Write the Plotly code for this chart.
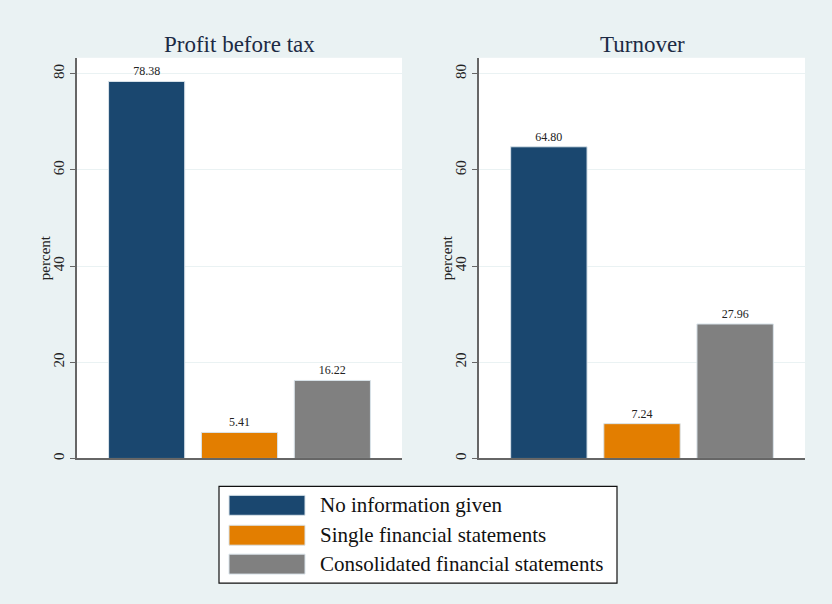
import plotly.graph_objects as go

categories = ["No information given", "Single financial statements", "Consolidated financial statements"]
panels = ["Profit before tax", "Turnover"]
profit_values = [78.38, 5.41, 16.22]
turnover_values = [64.80, 7.24, 27.96]
colors = ["#1a476f", "#e37e00", "#808080"]
yticks = [0, 20, 40, 60, 80]
ytitle = "percent"

W, H = 832, 604
BG = "#eaf2f3"
SERIF = "Liberation Serif, Times New Roman, serif"

def px(x):
    return x / W

def py(y):
    return 1 - y / H

fig = go.Figure()
series = [profit_values, turnover_values]
for p, vals in enumerate(series):
    ax = "" if p == 0 else str(p + 1)
    for i, (cat, v) in enumerate(zip(categories, vals)):
        fig.add_trace(go.Bar(
            x=[i], y=[v], name=cat, showlegend=False,
            marker=dict(color=colors[i], line=dict(color="#d9e3ea", width=1)),
            width=0.82,
            texttemplate="%{y:.2f}", textposition="outside",
            textfont=dict(family=SERIF, size=12, color="#222222"),
            cliponaxis=False,
            xaxis="x" + ax, yaxis="y" + ax,
        ))

doms = [(77, 402), (479, 805)]
top, bottom = 58, 460
for p, (x0, x1) in enumerate(doms):
    ax = "" if p == 0 else str(p + 1)
    fig.update_layout(**{
        "xaxis" + ax: dict(domain=[px(x0), px(x1)], range=[-0.75, 2.75],
                          showticklabels=False, ticks="", showgrid=False,
                          showline=True, linecolor="#666666", linewidth=1.5,
                          zeroline=False, anchor="y" + ax, fixedrange=True),
        "yaxis" + ax: dict(domain=[py(bottom), py(top)], range=[0, 83.3],
                          tickvals=yticks, ticktext=[str(t) for t in yticks],
                          tickangle=-90, ticks="outside", ticklen=5, tickcolor="#666666",
                          tickfont=dict(family=SERIF, size=15, color="#222222"),
                          showgrid=True, gridcolor=BG, gridwidth=1,
                          showline=True, linecolor="#666666", linewidth=1.5,
                          zeroline=False, anchor="x" + ax,
                          fixedrange=True),
    })
    fig.add_annotation(x=px((x0 + x1) / 2), y=py(45), xref="paper", yref="paper",
                       text=panels[p], showarrow=False,
                       font=dict(family=SERIF, size=23, color="#1c2a44"),
                       xanchor="center", yanchor="middle")
    fig.add_annotation(x=px(x0 - 32), y=py(259), xref="paper", yref="paper",
                       text=ytitle, showarrow=False, textangle=-90,
                       font=dict(family=SERIF, size=15, color="#222222"),
                       xanchor="center", yanchor="middle")

# legend box
fig.add_shape(type="rect", xref="paper", yref="paper",
              x0=px(219), x1=px(617), y0=py(585), y1=py(488),
              line=dict(color="#111111", width=1.2), fillcolor="white")
rows = [507, 537, 566]
for i, cat in enumerate(categories):
    fig.add_shape(type="rect", xref="paper", yref="paper",
                  x0=px(229), x1=px(305), y0=py(rows[i] + 10), y1=py(rows[i] - 10),
                  line=dict(color="#d9e3ea", width=1), fillcolor=colors[i])
    fig.add_annotation(x=px(318), y=py(rows[i]), xref="paper", yref="paper",
                       text=cat, showarrow=False, xanchor="left", yanchor="middle",
                       font=dict(family=SERIF, size=21, color="#111111"))

fig.update_layout(width=W, height=H, margin=dict(l=0, r=0, t=0, b=0),
                  paper_bgcolor=BG, plot_bgcolor="white", barmode="overlay",
                  showlegend=False)
fig.write_html("out.html", config={"displayModeBar": False},
               post_script="document.body.style.margin='0';document.body.style.padding='0';")
